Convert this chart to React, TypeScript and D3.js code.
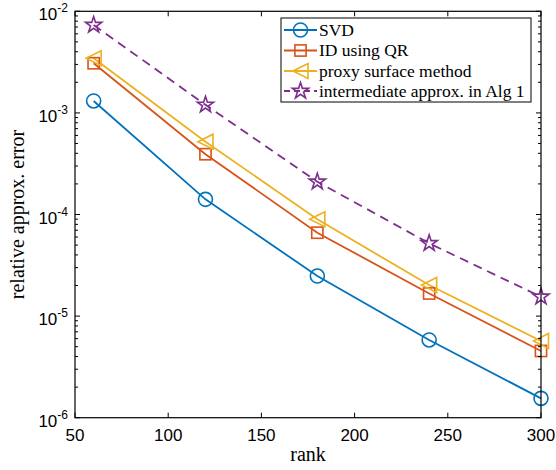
import React from 'react';
import * as d3 from 'd3';

const ranks = [60, 120, 180, 240, 300];
const svdErr = [1.31e-3, 1.41e-4, 2.48e-5, 5.82e-6, 1.55e-6];
const qrErr = [3.08e-3, 3.92e-4, 6.62e-5, 1.67e-5, 4.54e-6];
const proxyErr = [3.45e-3, 5.21e-4, 8.97e-5, 2.02e-5, 5.69e-6];
const interErr = [7.33e-3, 1.2e-3, 2.1e-4, 5.21e-5, 1.55e-5];
const seriesNames = ['SVD', 'ID using QR', 'proxy surface method', 'intermediate approx. in Alg 1'];
const xTicks = [50, 100, 150, 200, 250, 300];
const yExps = [-6, -5, -4, -3, -2];

const colors = ['#0072BD', '#D95319', '#EDB120', '#7E2F8E'];

const W = 556;
const H = 470;
const margin = { top: 11.3, right: 15, bottom: 52.3, left: 75 };

const starPath = (R: number) => {
  const r = R * 0.382;
  const pts: string[] = [];
  for (let i = 0; i < 10; i++) {
    const a = -Math.PI / 2 + (i * Math.PI) / 5;
    const rr = i % 2 === 0 ? R : r;
    pts.push(`${(rr * Math.cos(a)).toFixed(2)},${(rr * Math.sin(a)).toFixed(2)}`);
  }
  return 'M' + pts.join('L') + 'Z';
};

const Marker = ({ kind, x, y, color }: { kind: number; x: number; y: number; color: string }) => {
  const common = { fill: 'none', stroke: color, strokeWidth: 1.6 };
  if (kind === 0) return <circle cx={x} cy={y} r={7} {...common} />;
  if (kind === 1) return <rect x={x - 5.6} y={y - 5.6} width={11.2} height={11.2} {...common} />;
  if (kind === 2)
    return <path d={`M${x - 7.5},${y}L${x + 7.5},${y - 7.5}L${x + 7.5},${y + 7.5}Z`} {...common} />;
  return <path d={starPath(8.5)} transform={`translate(${x},${y})`} {...common} />;
};

export default function App() {
  const iw = W - margin.left - margin.right;
  const ih = H - margin.top - margin.bottom;
  const x = d3.scaleLinear().domain([50, 300]).range([margin.left, margin.left + iw]);
  const y = d3.scaleLog().domain([1e-6, 1e-2]).range([margin.top + ih, margin.top]);

  const all = [svdErr, qrErr, proxyErr, interErr];
  const line = d3
    .line<number>()
    .x((_, i) => x(ranks[i]))
    .y((d) => y(d));

  const x0 = margin.left;
  const x1 = margin.left + iw;
  const y0 = margin.top + ih;
  const y1 = margin.top;

  const minor: number[] = [];
  for (let e = -6; e < -2; e++) for (let k = 2; k <= 9; k++) minor.push(k * Math.pow(10, e));

  const sans = '"Liberation Sans", Arial, sans-serif';
  const serif = '"Liberation Serif", "Times New Roman", serif';

  const legX = 281;
  const legY = 18;
  const rowY = [30, 50.5, 71, 91];

  return (
    <svg width={W} height={H} style={{ position: 'absolute', left: 0, top: 0 }}>
      <rect width={W} height={H} fill="#fff" />
      {/* data */}
      {all.map((s, i) => (
        <path
          key={i}
          d={line(s) || ''}
          fill="none"
          stroke={colors[i]}
          strokeWidth={1.8}
          strokeDasharray={i === 3 ? '9,6' : undefined}
        />
      ))}
      {all.map((s, i) =>
        s.map((v, j) => <Marker key={`${i}-${j}`} kind={i} x={x(ranks[j])} y={y(v)} color={colors[i]} />)
      )}
      {/* axes box */}
      <rect x={x0} y={y1} width={iw} height={ih} fill="none" stroke="#000" strokeWidth={1.2} />
      {xTicks.map((t) => (
        <g key={t}>
          <line x1={x(t)} x2={x(t)} y1={y0} y2={y0 - 5} stroke="#000" />
          <line x1={x(t)} x2={x(t)} y1={y1} y2={y1 + 5} stroke="#000" />
          <text x={x(t)} y={y0 + 23} textAnchor="middle" fontFamily={sans} fontSize={17}>
            {t}
          </text>
        </g>
      ))}
      {yExps.map((e) => (
        <g key={e}>
          <line x1={x0} x2={x0 + 5} y1={y(Math.pow(10, e))} y2={y(Math.pow(10, e))} stroke="#000" />
          <line x1={x1} x2={x1 - 5} y1={y(Math.pow(10, e))} y2={y(Math.pow(10, e))} stroke="#000" />
          <text x={x0 - 7} y={y(Math.pow(10, e)) + 9} textAnchor="end" fontFamily={sans} fontSize={17}>
            10
            <tspan dy={-8} fontSize={12}>
              {e}
            </tspan>
          </text>
        </g>
      ))}
      {minor.map((m, i) => (
        <g key={i}>
          <line x1={x0} x2={x0 + 3} y1={y(m)} y2={y(m)} stroke="#000" />
          <line x1={x1} x2={x1 - 3} y1={y(m)} y2={y(m)} stroke="#000" />
        </g>
      ))}
      {/* axis labels */}
      <text x={(x0 + x1) / 2} y={461} textAnchor="middle" fontFamily={serif} fontSize={20}>
        rank
      </text>
      <text
        transform={`translate(24,${(y0 + y1) / 2}) rotate(-90)`}
        textAnchor="middle"
        fontFamily={serif}
        fontSize={20}
      >
        relative approx. error
      </text>
      {/* legend */}
      <rect x={legX} y={legY} width={250} height={84} fill="#fff" stroke="#000" strokeWidth={1} />
      {seriesNames.map((n, i) => (
        <g key={n}>
          <line
            x1={legX + 3}
            x2={legX + 36}
            y1={rowY[i]}
            y2={rowY[i]}
            stroke={colors[i]}
            strokeWidth={1.8}
            strokeDasharray={i === 3 ? '6,4' : undefined}
          />
          <Marker kind={i} x={legX + 19.5} y={rowY[i]} color={colors[i]} />
          <text x={legX + 38} y={rowY[i] + 5.5} fontFamily={serif} fontSize={17.5}>
            {n}
          </text>
        </g>
      ))}
    </svg>
  );
}
